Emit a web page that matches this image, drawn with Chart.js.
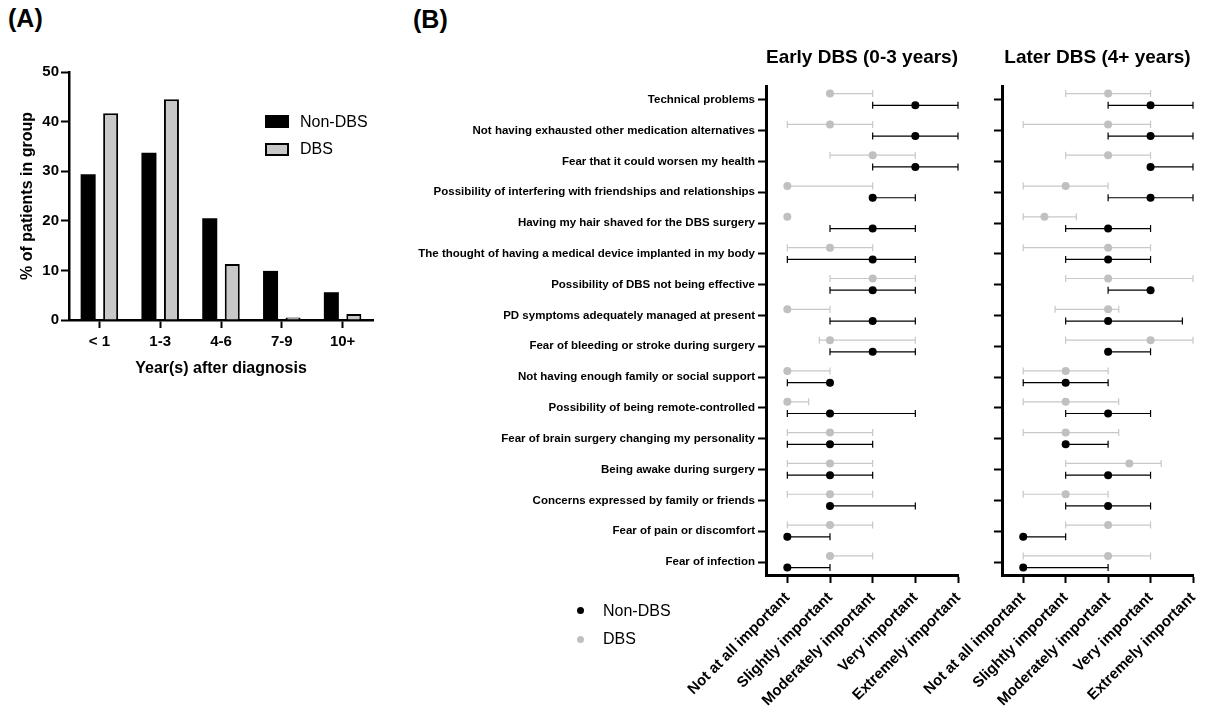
<!DOCTYPE html>
<html>
<head>
<meta charset="utf-8">
<script src="https://cdn.jsdelivr.net/npm/chart.js@4.4.1/dist/chart.umd.min.js"></script>
<style>
  body { margin: 0; background: #fff; width: 1207px; height: 708px; position: relative; overflow: hidden;
         font-family: "Liberation Sans", Arial, Helvetica, sans-serif; }
  canvas { position: absolute; }
  .panel-label { position: absolute; font-weight: bold; font-size: 25px; line-height: 1; }
  .legend-text { position: absolute; font-size: 16px; line-height: 16px; color: #000; }
  .swatch { position: absolute; box-sizing: border-box; }
  .dot { position: absolute; width: 7px; height: 7px; border-radius: 50%; }
</style>
</head>
<body>
<div class="panel-label" style="left:8px; top:6px;">(A)</div>
<div class="panel-label" style="left:413px; top:7px;">(B)</div>

<canvas id="chartA" width="400" height="390" style="left:0; top:0;"></canvas>
<canvas id="chartEarly" width="575" height="708" style="left:400px; top:0;"></canvas>
<canvas id="chartLate" width="347" height="708" style="left:860px; top:0;"></canvas>

<!-- panel A legend -->
<div class="swatch" style="left:265px; top:115px; width:24px; height:13px; background:#000;"></div>
<div class="legend-text" style="left:300px; top:114px;">Non-DBS</div>
<div class="swatch" style="left:265px; top:143px; width:24px; height:13px; background:#c8c8c8; border:2px solid #000;"></div>
<div class="legend-text" style="left:300px; top:141px;">DBS</div>

<!-- panel B legend -->
<div class="dot" style="left:577px; top:607px; background:#000;"></div>
<div class="legend-text" style="left:603px; top:603px;">Non-DBS</div>
<div class="dot" style="left:577px; top:636px; background:#c0c0c0;"></div>
<div class="legend-text" style="left:603px; top:631px;">DBS</div>

<script>
// --- Panel A: time since diagnosis ---
const yearGroups = ['< 1', '1-3', '4-6', '7-9', '10+'];
const nonDbsPercent = [29.4, 33.7, 20.5, 9.9, 5.6];
const dbsPercent = [41.7, 44.5, 11.3, 0.5, 1.2];

// --- Panel B: concerns about DBS ---
const concerns = [
    'Technical problems',
    'Not having exhausted other medication alternatives',
    'Fear that it could worsen my health',
    'Possibility of interfering with friendships and relationships',
    'Having my hair shaved for the DBS surgery',
    'The thought of having a medical device implanted in my body',
    'Possibility of DBS not being effective',
    'PD symptoms adequately managed at present',
    'Fear of bleeding or stroke during surgery',
    'Not having enough family or social support',
    'Possibility of being remote-controlled',
    'Fear of brain surgery changing my personality',
    'Being awake during surgery',
    'Concerns expressed by family or friends',
    'Fear of pain or discomfort',
    'Fear of infection'
];
const importanceLevels = ['Not at all important', 'Slightly important', 'Moderately important', 'Very important', 'Extremely important'];

// Early DBS (0-3 years): median and range, 1 = not at all ... 5 = extremely
const earlyNonDbsMedian = [4, 4, 4, 3, 3, 3, 3, 3, 3, 2, 2, 2, 2, 2, 1, 1];
const earlyNonDbsLow    = [3, 3, 3, 3, 2, 1, 2, 2, 2, 1, 1, 1, 1, 2, 1, 1];
const earlyNonDbsHigh   = [5, 5, 5, 4, 4, 4, 4, 4, 4, 2, 4, 3, 3, 4, 2, 2];
const earlyDbsMedian    = [2, 2, 3, 1, 1, 2, 3, 1, 2, 1, 1, 2, 2, 2, 2, 2];
const earlyDbsLow       = [2, 1, 2, 1, 1, 1, 2, 1, 1.75, 1, 1, 1, 1, 1, 1, 2];
const earlyDbsHigh      = [3, 3, 4, 3, 1, 3, 4, 2, 4, 2, 1.5, 3, 3, 3, 3, 3];

// Later DBS (4+ years)
const lateNonDbsMedian = [4, 4, 4, 4, 3, 3, 4, 3, 3, 2, 3, 2, 3, 3, 1, 1];
const lateNonDbsLow    = [3, 3, 4, 3, 2, 2, 3, 2, 3, 1, 2, 2, 2, 2, 1, 1];
const lateNonDbsHigh   = [5, 5, 5, 5, 4, 4, 4, 4.75, 4, 3, 4, 3, 4, 4, 2, 3];
const lateDbsMedian    = [3, 3, 3, 2, 1.5, 3, 3, 3, 4, 2, 2, 2, 3.5, 2, 3, 3];
const lateDbsLow       = [2, 1, 2, 1, 1, 1, 2, 1.75, 2, 1, 1, 1, 2, 1, 2, 1];
const lateDbsHigh      = [4, 4, 4, 3, 2.25, 4, 5, 3.25, 5, 3, 3.25, 3.25, 4.25, 3, 4, 4];

const FONT = '"Liberation Sans", Arial, Helvetica, sans-serif';
Chart.defaults.font.family = FONT;
Chart.defaults.color = '#000';

const BLACK = '#000000';
const GREY_DOT = '#c0c0c0';
const GREY_BAR = '#c8c8c8';

// force an axis box to a fixed size so the plot areas line up with the figure
function fitTo(size) {
    return function (scale) {
        if (scale.isHorizontal()) scale.height = size; else scale.width = size;
        scale.paddingLeft = scale.paddingRight = scale.paddingTop = scale.paddingBottom = 0;
    };
}

const axisGrid = { drawOnChartArea: false, drawTicks: true, tickLength: 8, tickWidth: 2, tickColor: '#000' };
const axisBorder = { color: '#000', width: 3 };

// --- Chart A: bars ---
new Chart(document.getElementById('chartA'), {
    type: 'bar',
    data: {
        labels: yearGroups,
        datasets: [
            { label: 'Non-DBS', data: nonDbsPercent, backgroundColor: BLACK, borderWidth: 0,
              categoryPercentage: 0.74, barPercentage: 0.667 },
            { label: 'DBS', data: dbsPercent, backgroundColor: GREY_BAR, borderColor: BLACK, borderWidth: 2,
              categoryPercentage: 0.74, barPercentage: 0.667 }
        ]
    },
    options: {
        responsive: false, animation: false,
        layout: { padding: { top: 72, right: 27, left: 0, bottom: 0 } },
        plugins: { legend: { display: false }, tooltip: { enabled: false } },
        scales: {
            x: {
                grid: { ...axisGrid, offset: false },
                border: { color: '#000', width: 2.5 },
                ticks: { font: { size: 15, weight: 'bold' }, color: '#000', padding: 5, maxRotation: 0 },
                title: { display: true, text: 'Year(s) after diagnosis', font: { size: 16, weight: 'bold' },
                         color: '#000', padding: { top: 0, bottom: 12 } },
                afterFit: fitTo(70)
            },
            y: {
                min: 0, max: 50,
                grid: axisGrid,
                border: { color: '#000', width: 2.5 },
                ticks: { stepSize: 10, font: { size: 15, weight: 'bold' }, color: '#000', padding: 2 },
                title: { display: true, text: '% of patients in group', font: { size: 16, weight: 'bold' },
                         color: '#000', padding: { top: 18, bottom: 0 } },
                afterFit: fitTo(69)
            }
        }
    }
});

// --- Chart B: median dots with range bars ---
const errorBarPlugin = {
    id: 'errorBars',
    beforeDatasetsDraw(chart) {
        const { ctx, scales: { x, y } } = chart;
        chart.data.datasets.forEach(ds => {
            ctx.save();
            ctx.strokeStyle = ds.rangeColor;
            ctx.lineWidth = 1.2;
            ds.data.forEach((pt, i) => {
                if (ds.low[i] === ds.high[i]) return;
                const py = y.getPixelForValue(pt.y);
                const x1 = x.getPixelForValue(ds.low[i]);
                const x2 = x.getPixelForValue(ds.high[i]);
                ctx.beginPath();
                ctx.moveTo(x1, py); ctx.lineTo(x2, py);
                ctx.moveTo(x1, py - 3.5); ctx.lineTo(x1, py + 3.5);
                ctx.moveTo(x2, py - 3.5); ctx.lineTo(x2, py + 3.5);
                ctx.stroke();
            });
            ctx.restore();
        });
    }
};

const GREY_SHIFT = -0.2;   // grey row sits a little above the tick
const BLACK_SHIFT = 0.18;  // black row a little below

function dotSeries(median, low, high, shift, dotColor, rangeColor, label) {
    return {
        label: label,
        data: median.map((m, i) => ({ x: m, y: i + shift })),
        low: low, high: high, rangeColor: rangeColor,
        backgroundColor: dotColor, borderColor: dotColor, borderWidth: 0,
        pointRadius: 4, pointHoverRadius: 4, showLine: false, clip: false
    };
}

function makeDotChart(id, title, datasets, showLabels, yWidth, rightPad) {
    return new Chart(document.getElementById(id), {
        type: 'scatter',
        data: { datasets: datasets },
        plugins: [errorBarPlugin],
        options: {
            responsive: false, animation: false,
            layout: { padding: { left: 0, right: rightPad, top: 0, bottom: 0 } },
            plugins: {
                legend: { display: false }, tooltip: { enabled: false },
                title: { display: true, text: title, fullSize: false, color: '#000',
                         font: { size: 19, weight: 'bold' }, padding: { top: 46, bottom: 18 } }
            },
            scales: {
                x: {
                    type: 'linear', min: 0.5, max: 5,
                    afterBuildTicks: s => { s.ticks = importanceLevels.map((_, i) => ({ value: i + 1 })); },
                    ticks: { callback: v => importanceLevels[v - 1], minRotation: 45, maxRotation: 45,
                             autoSkip: false, font: { size: 15, weight: 'bold' }, color: '#000', padding: 6 },
                    grid: axisGrid, border: axisBorder,
                    afterFit: fitTo(133)
                },
                y: {
                    type: 'linear', reverse: true, min: -0.42, max: 15.42,
                    afterBuildTicks: s => { s.ticks = concerns.map((_, i) => ({ value: i })); },
                    ticks: { callback: v => showLabels ? concerns[v] : '', autoSkip: false,
                             font: { size: 11.5, weight: 'bold' }, color: '#000', padding: 3 },
                    grid: axisGrid, border: axisBorder,
                    afterFit: fitTo(yWidth)
                }
            }
        }
    });
}

makeDotChart('chartEarly', 'Early DBS (0-3 years)', [
    dotSeries(earlyDbsMedian, earlyDbsLow, earlyDbsHigh, GREY_SHIFT, GREY_DOT, GREY_BAR, 'DBS'),
    dotSeries(earlyNonDbsMedian, earlyNonDbsLow, earlyNonDbsHigh, BLACK_SHIFT, BLACK, BLACK, 'Non-DBS')
], true, 366, 17);

makeDotChart('chartLate', 'Later DBS (4+ years)', [
    dotSeries(lateDbsMedian, lateDbsLow, lateDbsHigh, GREY_SHIFT, GREY_DOT, GREY_BAR, 'DBS'),
    dotSeries(lateNonDbsMedian, lateNonDbsLow, lateNonDbsHigh, BLACK_SHIFT, BLACK, BLACK, 'Non-DBS')
], false, 142, 14);
</script>
</body>
</html>
